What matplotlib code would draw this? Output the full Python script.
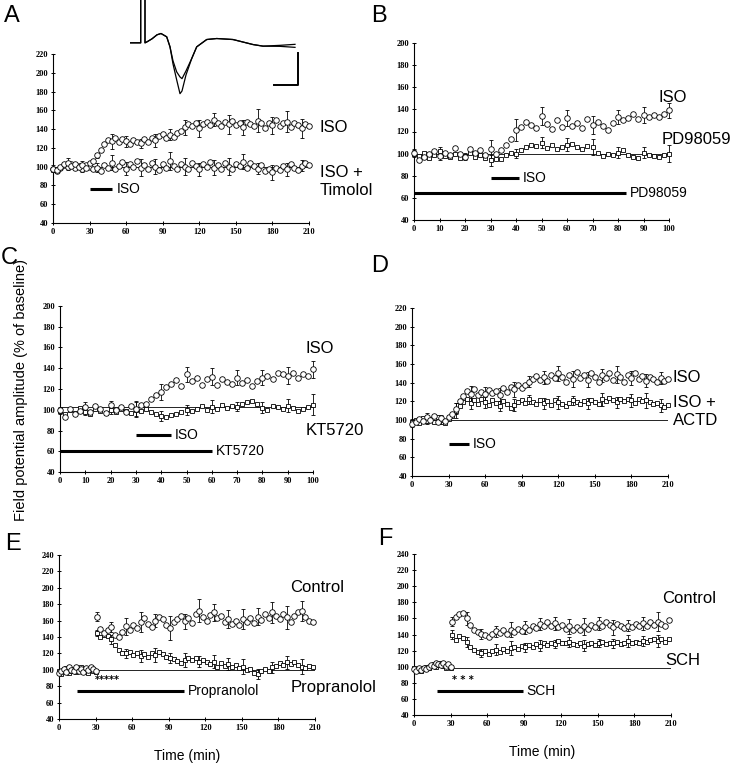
from matplotlib import pyplot as plt
import numpy as np

W, H = 734, 764

# ---- panel A : ISO vs ISO + timolol, one point every 3 min ----
a_iso = [98, 96, 100, 103, 104, 101, 103, 100, 102, 99, 104, 106, 112, 118, 124, 128, 127, 131, 126, 129,
         127, 124, 128, 126, 125, 129, 126, 131, 128, 133, 135, 131, 134, 132, 136, 138, 142, 145, 143, 147,
         141, 145, 148, 144, 150, 146, 143, 148, 145, 149, 144, 147, 142, 148, 145, 143, 149, 146, 141, 147,
         144, 150, 143, 146, 148, 142, 147, 144, 141, 145, 143]
a_tim = [97, 95, 99, 102, 100, 103, 99, 101, 98, 102, 100, 97, 99, 95, 102, 99, 104, 97, 101, 105,
         98, 103, 100, 106, 99, 102, 97, 104, 100, 96, 103, 99, 106, 101, 97, 103, 100, 98, 104, 101,
         97, 103, 100, 105, 99, 102, 98, 104, 100, 97, 103, 101, 105, 99, 104, 101, 98, 102, 95, 97,
         94, 99, 96, 101, 97, 103, 99, 96, 101, 104, 102]
a_iso_err = [4, 5, 4, 3, 8, 6, 5, 7, 6, 8, 9, 7, 10, 8, 12, 9, 11, 10]
a_tim_err = [3, 4, 4, 5, 8, 7, 9, 8, 10, 9, 7, 8, 9, 8, 6, 8, 7, 6]
a_iso_bar = [30, 48]

# ---- panel B : ISO vs PD98059, one point every 2 min ----
b_iso = [101, 94, 97, 100, 102, 98, 101, 99, 105, 100, 97, 104, 101, 103, 99, 104, 100, 103, 108, 113,
         121, 124, 129, 126, 123, 134, 127, 122, 130, 124, 132, 125, 128, 123, 131, 126, 129, 125, 121, 128,
         133, 130, 132, 136, 131, 135, 133, 135, 133, 136, 139]
b_pd = [100, 98, 101, 96, 99, 102, 98, 97, 100, 96, 98, 101, 97, 99, 96, 94, 95, 95, 99, 101,
        100, 103, 106, 108, 107, 110, 105, 108, 104, 106, 108, 109, 106, 104, 107, 106, 101, 98, 100, 99,
        101, 103, 99, 97, 96, 101, 99, 98, 97, 99, 100]
b_iso_err = [3, 4, 3, 8, 10, 8, 7, 8, 6, 7, 7]
b_pd_err = [3, 4, 3, 5, 4, 5, 6, 7, 5, 5, 8]
b_iso_bar = [30, 41]
b_pd_bar = [0, 83]

# ---- panel C : ISO vs KT5720, one point every 2 min ----
c_iso = [100, 93, 101, 96, 99, 103, 98, 104, 101, 97, 105, 100, 103, 98, 104, 101, 105, 106, 110, 114,
         117, 122, 125, 129, 123, 134, 128, 131, 124, 130, 132, 124, 130, 127, 125, 131, 126, 129, 123, 128,
         131, 133, 130, 135, 134, 133, 135, 131, 134, 133, 139]
c_kt = [99, 96, 100, 97, 102, 98, 96, 101, 99, 97, 100, 98, 101, 99, 97, 100, 99, 101, 98, 96,
        94, 93, 95, 96, 98, 100, 99, 101, 104, 100, 103, 101, 105, 102, 104, 103, 106, 107, 108, 106,
        102, 100, 104, 103, 101, 104, 102, 99, 101, 103, 105]
c_iso_err = [3, 4, 3, 7, 8, 7, 8, 7, 7, 8, 8]
c_kt_err = [3, 3, 4, 7, 5, 5, 6, 4, 5, 6, 10]
c_iso_bar = [30, 44]
c_kt_bar = [0, 60]

# ---- panel D : ISO vs ISO + ACTD, one point every 3 min ----
d_iso = [96, 98, 101, 99, 103, 100, 104, 98, 102, 99, 103, 106, 112, 120, 126, 131, 128, 133, 127, 130,
         128, 132, 129, 131, 127, 134, 130, 135, 133, 137, 134, 138, 141, 144, 147, 143, 146, 142, 148, 145,
         150, 146, 141, 148, 144, 151, 145, 148, 143, 150, 146, 141, 148, 145, 150, 143, 149, 146, 141, 148,
         145, 150, 144, 147, 142, 146, 144, 141, 145, 142, 144]
d_actd = [98, 100, 97, 102, 99, 101, 98, 103, 100, 97, 101, 104, 110, 115, 119, 122, 118, 121, 117, 123,
          119, 116, 121, 118, 115, 120, 117, 113, 116, 119, 121, 118, 122, 119, 117, 121, 118, 120, 116, 121,
          119, 117, 115, 118, 121, 119, 117, 120, 118, 121, 119, 117, 122, 120, 124, 121, 119, 122, 120, 123,
          121, 118, 122, 120, 121, 119, 117, 118, 116, 114, 116]
d_iso_err = [3, 4, 3, 6, 8, 7, 7, 8, 6, 7, 8, 9, 8, 7, 9, 8, 7, 6]
d_actd_err = [3, 3, 4, 8, 6, 6, 5, 6, 5, 6, 7, 5, 6, 7, 6, 7, 8, 7]
d_iso_bar = [30, 47]

# ---- panel E : control vs propranolol (baseline every 2 min, then every 3 min from 31) ----
e_ctrl_pre = [96, 99, 101, 97, 103, 100, 98, 104, 99, 101, 97, 102, 100, 104, 101, 98]
e_prop_pre = [98, 95, 100, 102, 96, 99, 101, 97, 100, 103, 98, 100, 96, 101, 99, 97]
e_ctrl = [165, 150, 145, 148, 152, 143, 140, 146, 153, 149, 155, 151, 158, 163, 156, 152, 160, 165, 162, 155,
          151, 158, 162, 166, 159, 163, 157, 168, 172, 164, 160, 167, 170, 163, 166, 158, 162, 156, 160, 155,
          162, 158, 163, 157, 165, 161, 168, 163, 170, 166, 162, 168, 164, 158, 166, 170, 172, 165, 160, 158]
e_prop = [145, 140, 143, 141, 137, 130, 124, 121, 120, 122, 118, 120, 117, 119, 116, 121, 118, 122, 119, 116,
          114, 113, 111, 108, 112, 115, 112, 114, 110, 112, 109, 107, 110, 104, 108, 105, 107, 103, 106, 102,
          104, 100, 101, 96, 95, 98, 101, 99, 103, 105, 108, 106, 109, 107, 110, 106, 104, 102, 105, 103]
e_ctrl_err = [5, 6, 10, 12, 8, 15, 9, 14, 10, 11, 12, 10, 13, 14, 12]
e_prop_err = [4, 6, 5, 7, 8, 6, 9, 7, 8, 7, 9, 6, 7, 8, 9]
e_prop_bar = [14.5, 102.5]

# ---- panel F : control vs SCH ----
f_ctrl_pre = [97, 95, 98, 96, 99, 97, 100, 102, 101, 104, 103, 102, 105, 101, 103, 100]
f_sch_pre = [99, 96, 97, 95, 98, 100, 99, 101, 103, 100, 102, 104, 101, 99, 102, 98]
f_ctrl = [156, 162, 165, 167, 160, 152, 146, 143, 141, 139, 137, 141, 144, 142, 145, 141, 146, 143, 147, 144,
          149, 146, 151, 148, 153, 150, 155, 151, 154, 149, 152, 147, 150, 146, 149, 145, 150, 147, 152, 149,
          154, 150, 156, 152, 149, 153, 150, 148, 151, 149, 153, 150, 154, 151, 155, 152, 156, 153, 150, 158]
f_sch = [140, 133, 138, 136, 131, 125, 121, 118, 117, 119, 116, 119, 121, 118, 122, 120, 123, 125, 122, 126,
         124, 127, 125, 128, 126, 129, 127, 130, 128, 132, 130, 129, 131, 128, 127, 129, 126, 128, 130, 127,
         129, 131, 128, 130, 129, 131, 128, 130, 132, 129, 131, 130, 132, 131, 133, 135, 132, 134, 131, 134]
f_ctrl_err = [6, 8, 6, 7, 9, 8, 7, 8, 9, 10, 8, 9, 7, 8, 12]
f_sch_err = [5, 6, 5, 7, 9, 6, 7, 5, 6, 7, 5, 6, 7, 6, 7]
f_sch_bar = [18.5, 89]

# ---- field potential traces for the inset of A ----
wave_x = [0, 10.7, 10.7, 15, 15, 17, 22, 27, 31, 36.7, 40, 43, 46.7, 50, 52, 56, 61.7, 66.7, 76.7, 86.7,
          103, 123, 133, 150, 165]
wave_1 = [0, 0, 60, 60, 0, 1, 4, 8, 9.3, 6, -4, -21, -37, -50.7, -48, -32, -15.7, -4, 3.3, 4.3,
          3.3, -1.7, -3.3, -2.5, -1.5]
wave_2 = [0, 0, 60, 60, 0, 1, 4, 8, 9.3, 6, -4, -18, -29, -34, -35.7, -28, -15.7, -4, 3.3, 4.3,
          3.3, -1.7, -3.3, -3.5, -4.5]


def px_axes(fig, x0, y0, x1, y1):  # make axes from a pixel box (top-left origin)
    return fig.add_axes([x0 / W, 1 - y1 / H, (x1 - x0) / W, (y1 - y0) / H])


def style_axes(ax, xmax, xstep, ymin, ymax):  # journal style: left/bottom spines, tiny bold serif ticks
    ax.set_xlim(0, xmax)
    ax.set_ylim(ymin, ymax)
    ax.set_xticks(np.arange(0, xmax + 1, xstep))
    ax.set_yticks(np.arange(ymin, ymax + 1, 20))
    for s in ["top", "right"]:
        ax.spines[s].set_visible(False)
    for s in ["left", "bottom"]:
        ax.spines[s].set_linewidth(0.8)
    ax.tick_params(direction="inout", length=3, width=0.7, pad=2)
    for lab in ax.get_xticklabels() + ax.get_yticklabels():
        lab.set_fontfamily("Liberation Serif")
        lab.set_fontweight("bold")
        lab.set_fontsize(6)


def series(ax, t, v, err, k, marker, ms):  # markers plus error bars on every k-th point
    t = np.asarray(t, dtype=float)
    v = np.asarray(v, dtype=float)
    if err is not None:
        ax.errorbar(t[::k], v[::k], yerr=err, fmt="none", ecolor="k", elinewidth=0.6,
                    capsize=1.5, capthick=0.6, zorder=2, clip_on=False)
    ax.plot(t, v, linestyle="none", marker=marker, ms=ms, mfc="white", mec="k", mew=0.6,
            zorder=3, clip_on=False)


def drug_bar(ax, bar, y, label, fs=10):  # thick bar showing drug application with its name
    ax.plot(bar, [y, y], color="k", lw=2.2, solid_capstyle="butt", clip_on=False)
    if label:
        ax.text(bar[1] + (ax.get_xlim()[1] * 0.015), y, label, fontsize=fs, va="center",
                ha="left", family="Liberation Sans", clip_on=False)


def label(ax, x, y, s, fs=12, ls=1.2):
    ax.text(x, y, s, fontsize=fs, va="center", ha="left", family="Liberation Sans",
            linespacing=ls, clip_on=False)


fig = plt.figure(figsize=(W / 100, H / 100), dpi=100)

# panel A
ax = px_axes(fig, 53, 54, 309, 223)
style_axes(ax, 210, 30, 40, 220)
ax.plot([0, 210], [100, 100], color="k", lw=0.6, zorder=1)
t3 = np.arange(len(a_iso)) * 3
series(ax, t3, a_tim, a_tim_err, 4, "o", 4)
series(ax, t3, a_iso, a_iso_err, 4, "o", 4)
drug_bar(ax, a_iso_bar, 76, "")
label(ax, 52, 76, "ISO", fs=10)
label(ax, 219, 142, "ISO")
label(ax, 219, 84, "ISO +\nTimolol", ls=1.3)

# inset traces
axi = px_axes(fig, 130, 0, 300, 97)
axi.set_xlim(0, 170)
axi.set_ylim(-54, 42.7)
axi.axis("off")
axi.plot(wave_x, wave_1, color="k", lw=0.9)
axi.plot(wave_x, wave_2, color="k", lw=0.9)
axi.plot([144, 168, 168], [-42.3, -42.3, -10.3], color="k", lw=1.4)

# panel B
ax = px_axes(fig, 414, 43, 669, 220)
style_axes(ax, 100, 10, 40, 200)
ax.plot([0, 100], [100, 100], color="k", lw=0.6, zorder=1)
t2 = np.arange(len(b_iso)) * 2
series(ax, t2, b_pd, b_pd_err, 5, "s", 3.5)
series(ax, t2, b_iso, b_iso_err, 5, "o", 4)
drug_bar(ax, b_iso_bar, 78, "ISO")
drug_bar(ax, b_pd_bar, 64, "PD98059")
label(ax, 96, 151, "ISO")
label(ax, 97, 113, "PD98059")

# panel C
ax = px_axes(fig, 60, 306, 313, 472)
style_axes(ax, 100, 10, 40, 200)
ax.plot([0, 100], [103, 103], color="k", lw=0.6, zorder=1)
series(ax, t2, c_kt, c_kt_err, 5, "s", 3.5)
series(ax, t2, c_iso, c_iso_err, 5, "o", 4)
drug_bar(ax, c_iso_bar, 76, "ISO")
drug_bar(ax, c_kt_bar, 60, "KT5720")
label(ax, 97, 159, "ISO")
label(ax, 97, 80, "KT5720")

# panel D
ax = px_axes(fig, 412, 308, 668, 476)
style_axes(ax, 210, 30, 40, 220)
ax.plot([0, 210], [100, 100], color="k", lw=0.6, zorder=1)
series(ax, t3, d_actd, d_actd_err, 4, "s", 3.5)
series(ax, t3, d_iso, d_iso_err, 4, "o", 4)
drug_bar(ax, d_iso_bar, 74, "ISO")
label(ax, 214, 146, "ISO")
label(ax, 214, 109, "ISO +\nACTD", ls=1.3)

# panel E
pre_t = np.arange(len(e_ctrl_pre)) * 2
post_t = 31 + np.arange(len(e_ctrl)) * 3
ax = px_axes(fig, 59, 555, 315, 719)
style_axes(ax, 210, 30, 40, 240)
ax.plot([30, 210], [100, 100], color="k", lw=0.6, zorder=1)
series(ax, pre_t, e_prop_pre, None, 1, "s", 3.5)
series(ax, pre_t, e_ctrl_pre, None, 1, "o", 4)
series(ax, post_t, e_prop, e_prop_err, 4, "s", 3.5)
series(ax, post_t, e_ctrl, e_ctrl_err, 4, "o", 4)
drug_bar(ax, e_prop_bar, 74.5, "Propranolol")
ax.text(40, 87, "*****", fontsize=7, ha="center", va="center", fontweight="bold")
label(ax, 190, 200, "Control")
label(ax, 190, 79, "Propranolol")
ax.set_xlabel("Time (min)", fontsize=10, family="Liberation Sans", labelpad=12)

# panel F
ax = px_axes(fig, 414, 554, 671, 715)
style_axes(ax, 210, 30, 40, 240)
ax.plot([30, 210], [98, 98], color="k", lw=0.6, zorder=1)
series(ax, pre_t, f_sch_pre, None, 1, "s", 3.5)
series(ax, pre_t, f_ctrl_pre, None, 1, "o", 4)
series(ax, post_t, f_sch, f_sch_err, 4, "s", 3.5)
series(ax, post_t, f_ctrl, f_ctrl_err, 4, "o", 4)
drug_bar(ax, f_sch_bar, 70, "SCH")
ax.text(40, 84, "* * *", fontsize=7, ha="center", va="center", fontweight="bold")
label(ax, 203, 185, "Control")
label(ax, 205, 108, "SCH")
ax.set_xlabel("Time (min)", fontsize=10, family="Liberation Sans", labelpad=12)

# panel letters and shared y label
for s, x, y in [("A", 12, 16), ("B", 379, 16), ("C", 9, 258), ("D", 380, 266), ("E", 13, 544), ("F", 385, 539)]:
    fig.text(x / W, 1 - y / H, s, fontsize=17, family="Liberation Sans", ha="center", va="center")
fig.text(21 / W, 1 - 390 / H, "Field potential amplitude (% of baseline)", rotation=90, fontsize=10.5,
         family="Liberation Sans", ha="center", va="center")

fig.savefig("out.png", dpi=100)
